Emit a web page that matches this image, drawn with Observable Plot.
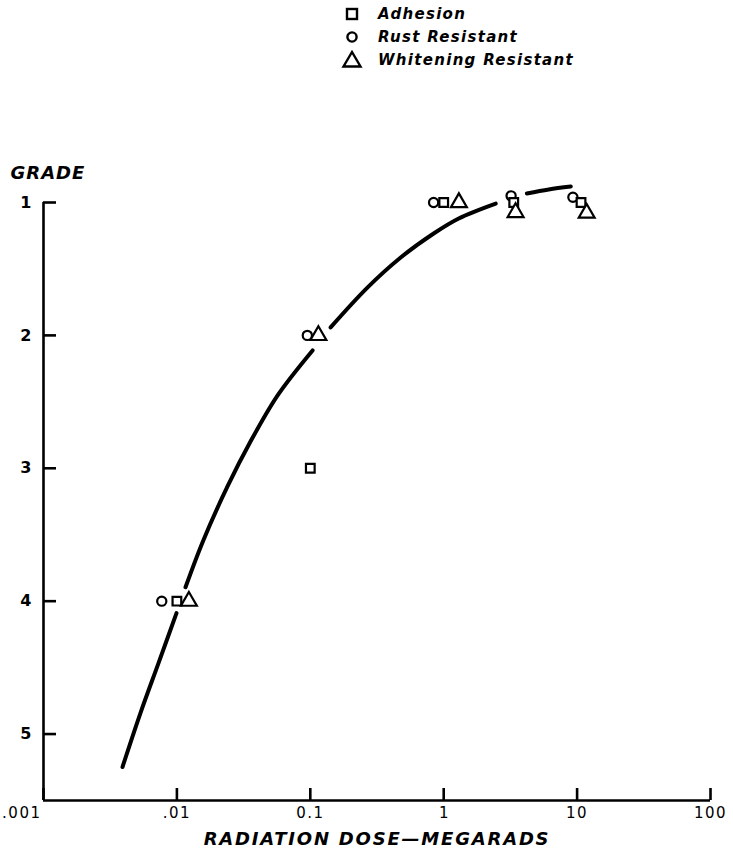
<!DOCTYPE html>
<html><head><meta charset="utf-8">
<script src="https://cdn.jsdelivr.net/npm/d3@7"></script>
<script src="https://cdn.jsdelivr.net/npm/@observablehq/plot@0.6"></script>
<style>
body{margin:0;background:#fff;}
#wrap{position:relative;width:733px;height:850px;}
#legend{position:absolute;left:341px;top:2px;font-family:"DejaVu Sans";font-style:italic;font-weight:bold;font-size:15px;letter-spacing:1.3px;color:#000;}
.row{height:23px;display:flex;align-items:center;}
.row svg{width:37px;height:22px;flex:none;}
</style></head>
<body>
<div id="wrap">
<div id="legend">
 <div class="row"><svg viewBox="0 0 37 22"><rect x="6" y="6" width="10" height="10" fill="none" stroke="#000" stroke-width="2.4"/></svg><span>Adhesion</span></div>
 <div class="row"><svg viewBox="0 0 37 22"><circle cx="11" cy="11" r="4.6" fill="none" stroke="#000" stroke-width="2.4"/></svg><span>Rust Resistant</span></div>
 <div class="row"><svg viewBox="0 0 37 22"><path d="M11,3 L19.5,17.5 L2.5,17.5 Z" fill="none" stroke="#000" stroke-width="2.4" stroke-linejoin="miter"/></svg><span>Whitening Resistant</span></div>
</div>
</div>
<script>
// Tick values and labels
const xTicks = [0.001, 0.01, 0.1, 1, 10, 100];
const xTickLabels = [".001", ".01", "0.1", "1", "10", "100"];
const yTicks = [1, 2, 3, 4, 5];

// Series: Adhesion (squares)
const adhesionX = [0.01, 0.1, 1.0, 3.35, 10.7];
const adhesionY = [4, 3, 1, 1.0, 1.0];
// Rust Resistant (circles)
const rustX = [0.0077, 0.095, 0.84, 3.2, 9.3];
const rustY = [4, 2, 1, 0.95, 0.96];
// Whitening Resistant (triangles)
const whiteX = [0.0123, 0.115, 1.3, 3.46, 11.8];
const whiteY = [4, 2, 1, 1.075, 1.08];

// Hand-drawn trend curve (broken where it passes the markers)
const curveX = [0.00391, 0.00533, 0.00728, 0.00993,
                0.0116, 0.0158, 0.0240, 0.0357, 0.0569, 0.104,
                0.142, 0.269, 0.476, 0.841, 1.296, 2.455,
                4.20, 6.13, 8.97];
const curveY = [5.248, 4.842, 4.466, 4.090,
                3.895, 3.541, 3.135, 2.797, 2.451, 2.113,
                1.940, 1.639, 1.414, 1.233, 1.120, 1.008,
                0.932, 0.902, 0.880];
const curveSeg = [1,1,1,1, 2,2,2,2,2,2, 3,3,3,3,3,3, 4,4,4];

const yLabel = "GRADE";
const xLabel = "RADIATION DOSE\u2014MEGARADS";

const curve = curveX.map((x, i) => ({x, y: curveY[i], s: curveSeg[i]}));
const pts = (xs, ys) => xs.map((x, i) => ({x, y: ys[i]}));

const font = {fontFamily: "DejaVu Sans", fontWeight: "bold"};

const chart = Plot.plot({
  width: 733,
  height: 850,
  marginLeft: 43,
  marginRight: 23,
  marginTop: 202,
  marginBottom: 50,
  style: {background: "#fff", color: "#000", fontFamily: "DejaVu Sans", overflow: "visible"},
  x: {type: "log", domain: [0.001, 100], label: null},
  y: {domain: [1, 5.5], reverse: true, label: null},
  marks: [
    Plot.ruleX([0.001], {y1: 1, y2: 5.5, strokeWidth: 2.6}),
    Plot.ruleY([5.5], {x1: 0.001, x2: 100, strokeWidth: 2.6}),
    Plot.axisY({ticks: yTicks, tickSize: -13, text: null, strokeWidth: 2.6, label: null}),
    Plot.axisY({ticks: yTicks, tickSize: 0, tickPadding: 12, fontSize: 16, ...font,
      tickFormat: d => String(d), label: null}),
    Plot.axisX({ticks: xTicks, tickSize: -12, text: null, strokeWidth: 2.6, label: null}),
    Plot.axisX({ticks: xTicks.slice(1), tickSize: 0, tickPadding: 7, fontSize: 15, fontFamily: "DejaVu Sans",
      tickFormat: d => xTickLabels[xTicks.indexOf(d)], label: null}),
    Plot.axisX({ticks: xTicks.slice(0, 1), tickSize: 0, tickPadding: 7, fontSize: 15, fontFamily: "DejaVu Sans",
      textAnchor: "end", dx: -2, tickFormat: d => xTickLabels[xTicks.indexOf(d)], label: null}),
    Plot.text([yLabel], {frameAnchor: "top-left", dx: -33, dy: -36, textAnchor: "start", fontSize: 18,
      fontStyle: "italic", ...font}),
    Plot.text([xLabel], {frameAnchor: "bottom", dy: 44, fontSize: 18,
      fontStyle: "italic", ...font}),
    Plot.line(curve, {x: "x", y: "y", z: "s", curve: "catmull-rom", stroke: "#000", strokeWidth: 4, strokeLinecap: "round"}),
    Plot.dot(pts(rustX, rustY), {x: "x", y: "y", symbol: "circle", r: 4.6, fill: "#fff", stroke: "#000", strokeWidth: 2.2}),
    Plot.dot(pts(adhesionX, adhesionY), {x: "x", y: "y", symbol: "square", r: 4.9, fill: "#fff", stroke: "#000", strokeWidth: 2.2}),
    Plot.dot(pts(whiteX, whiteY), {x: "x", y: "y", symbol: "triangle", r: 5.9, fill: "#fff", stroke: "#000", strokeWidth: 2.2})
  ]
});
// letter spacing (not a Plot text option) applied as style
d3.select(chart).selectAll("text").each(function() {
  const t = this.textContent;
  if (t === xLabel) this.style.letterSpacing = "1.8px";
  else if (t === yLabel) this.style.letterSpacing = "1px";
  else if (xTickLabels.includes(t) && t.length > 1) this.style.letterSpacing = "1.5px";
});
document.getElementById("wrap").appendChild(chart);
</script>
</body></html>
